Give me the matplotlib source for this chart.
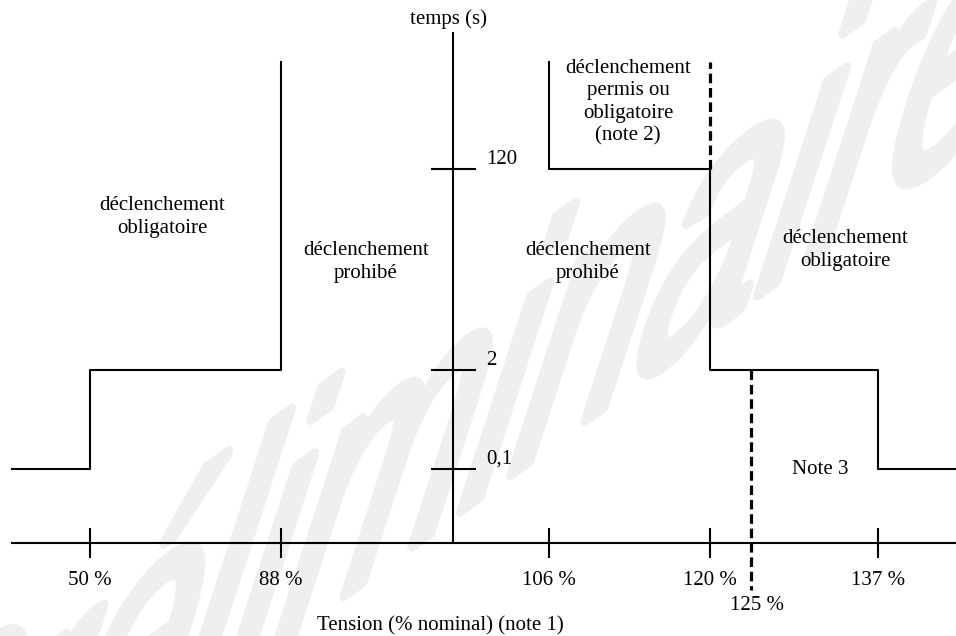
import numpy as np
import matplotlib
matplotlib.use('Agg')
import matplotlib.pyplot as plt
from matplotlib.textpath import TextPath
from matplotlib.patches import PathPatch
from matplotlib.font_manager import FontProperties
from matplotlib.transforms import Affine2D

plt.rcParams['font.family'] = ['Liberation Serif', 'DejaVu Serif']

# graduations de l'axe des tensions (% du nominal) et des temps (s)
tension_ticks = [50, 88, 106, 120, 137]
tension_labels = ['50 %', '88 %', '106 %', '120 %', '137 %']
tension_note3 = 125
temps_ticks = [0.1, 2, 120]
temps_labels = ['0,1', '2', '120']

T_HAUT = 1e3   # limite ouverte vers le haut
T_BAS = -0.5   # prolongement sous l'axe

# limite de sous-tension
sous_x = [40, 50, 50, 88, 88]
sous_y = [0.1, 0.1, 2, 2, T_HAUT]
# limite de surtension
sur_x = [106, 106, 120, 120, 137, 137, 147]
sur_y = [T_HAUT, 120, 120, 2, 2, 0.1, 0.1]
# zones en pointillé
note2_x = [120, 120]
note2_y = [120, T_HAUT]
note3_x = [tension_note3, tension_note3]
note3_y = [2, T_BAS]

# echelles schematiques (non lineaires), en pixels
x_ref = [30, 40, 50, 88, 100, 106, 120, 125, 137, 147, 160]
x_px = [-100, 12, 90, 281, 453, 549, 710, 751, 878, 956, 1100]
y_ref = [-5, -1, 0, 0.1, 2, 120, 1e3, 1e4, 1e6]
y_px = [-100, 0, 93, 167, 266, 467, 574, 603, 800]


def fx(v):
    return np.interp(v, x_ref, x_px)


def fx_inv(v):
    return np.interp(v, x_px, x_ref)


def fy(v):
    return np.interp(v, y_ref, y_px)


def fy_inv(v):
    return np.interp(v, y_px, y_ref)


fig = plt.figure(figsize=(9.56, 6.36), dpi=100)
ax = fig.add_axes([0, 0, 1, 1])
ax.set_xscale('function', functions=(fx, fx_inv))
ax.set_yscale('function', functions=(fy, fy_inv))
ax.set_xlim(fx_inv(0), fx_inv(956))
ax.set_ylim(fy_inv(0), fy_inv(636))

# filigrane
fp = FontProperties(family='Liberation Sans')
tp = TextPath((0, 0), 'Préliminaire', size=1, prop=fp)
a, b = 275, 430
th, ph = np.radians(36), np.radians(72)
mtx = np.array([[a * np.cos(th), b * np.cos(ph), -185],
                [a * np.sin(th), b * np.sin(ph), -345],
                [0, 0, 1]])
wm = PathPatch(tp, transform=Affine2D(mtx), facecolor='#efefef',
               edgecolor='#efefef', lw=6, joinstyle='round', zorder=0.5)
ax.add_patch(wm)

lw = 1.5
ax.plot(sous_x, sous_y, color='black', lw=lw)
ax.plot(sur_x, sur_y, color='black', lw=lw)
ax.plot(note2_x, note2_y, color='black', lw=2.3, linestyle=(0, (3, 1.5)))
ax.plot(note3_x, note3_y, color='black', lw=2.3, linestyle=(0, (3, 1.5)))

# axes
for s in ['top', 'left']:
    ax.spines[s].set_visible(False)
ax.spines['bottom'].set_position(('data', 0))
ax.spines['bottom'].set_bounds(40, 147)
ax.spines['right'].set_position(('data', 100))
ax.spines['right'].set_bounds(0, 1e4)
ax.spines['bottom'].set_linewidth(lw)
ax.spines['right'].set_linewidth(lw)
ax.yaxis.tick_right()

ax.set_xticks(tension_ticks, tension_labels)
ax.set_yticks(temps_ticks, temps_labels)
ax.minorticks_off()
ax.tick_params(axis='x', direction='inout', length=22.3, width=lw, pad=9,
               labelsize=15)
ax.tick_params(axis='y', direction='inout', length=32.4, width=lw, pad=8,
               labelsize=15)
for lab in ax.get_yticklabels():
    lab.set_verticalalignment('bottom')

ax.annotate('125 %', xy=(tension_note3, T_BAS), xytext=(4, -5),
            textcoords='offset points', ha='center', va='top', fontsize=15)

zones = [
    ('déclenchement\nobligatoire', 162, 217),
    ('déclenchement\nprohibé', 366, 262),
    ('déclenchement\nprohibé', 588, 262),
    ('déclenchement\npermis ou\nobligatoire\n(note 2)', 628, 102),
    ('déclenchement\nobligatoire', 845, 250),
    ('Note 3', 820, 470),
    ('temps (s)', 448, 19),
    ('Tension (% nominal) (note 1)', 440, 626),
]
for txt, px, py in zones:
    ax.text(px / 956, 1 - py / 636, txt, transform=ax.transAxes,
            ha='center', va='center', fontsize=15, linespacing=1.25)

fig.savefig('out.png', dpi=100)
